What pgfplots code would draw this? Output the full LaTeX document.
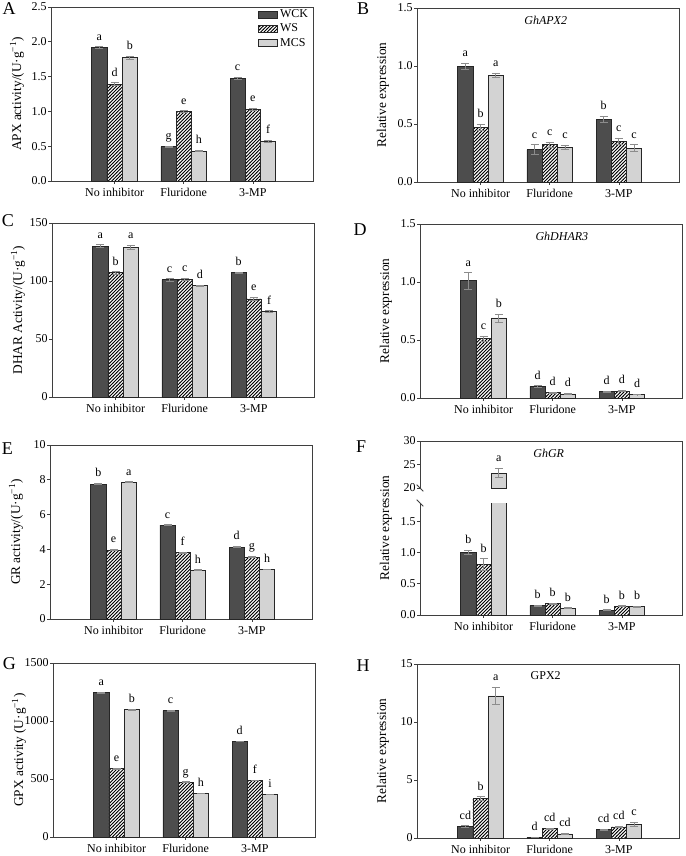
\documentclass[border=0pt]{standalone}
\usepackage{fontspec}
\setmainfont{Liberation Serif}
\usepackage{pgfplots}
\usepackage{pgfplotstable}
\pgfplotsset{compat=1.18}
\usetikzlibrary{patterns}
\newcommand\fs{\fontsize{9pt}{10pt}\selectfont}
\newcommand\pl{\fontsize{13.5pt}{14pt}\selectfont}
\definecolor{cdark}{HTML}{4D4D4D}
\definecolor{clight}{HTML}{D3D3D3}
\definecolor{cerr}{HTML}{8C8C8C}
\definecolor{caxis}{HTML}{3F3F3F}
\pgfdeclarepatternformonly{myne}{\pgfqpoint{-1pt}{-1pt}}{\pgfqpoint{3.5pt}{3.5pt}}{\pgfqpoint{2.5pt}{2.5pt}}{%
  \pgfsetlinewidth{0.65pt}\pgfpathmoveto{\pgfqpoint{-0.2pt}{-0.2pt}}\pgfpathlineto{\pgfqpoint{2.7pt}{2.7pt}}\pgfusepath{stroke}}

\pgfplotsset{
 panel/.style={scale only axis, width=197pt, height=130.5pt, anchor=south west,
   ybar, bar width=0.22, xmin=-0.92, xmax=2.88,
   xtick={0,1,2}, xticklabels={No inhibitor,Fluridone,3-MP},
   tick align=outside, tick pos=left, major tick length=2pt,
   tick style={caxis, line width=0.5pt}, axis line style={caxis, line width=0.6pt},
   ticklabel style={font=\fs}, yticklabel style={inner sep=1pt},
   label style={font=\fs},
   every axis y label/.style={at={(rel axis cs:0,0.5)}, xshift=-25.5pt, rotate=90, anchor=center}},
 errb/.style={/pgfplots/error bars/y dir=both, /pgfplots/error bars/y explicit,
   /pgfplots/error bars/error bar style={cerr, line width=0.6pt},
   /pgfplots/error bars/error mark options={cerr, rotate=90, mark size=3pt, line width=0.6pt}},
 lett/.style={nodes near coords, point meta=explicit symbolic,
   every node near coord/.append style={font=\fs, text=black, anchor=base, inner sep=0pt, yshift=\eshift}},
 legimg/.style={legend image code/.code={\draw[##1] (0pt,-2.6pt) rectangle (14pt,2.6pt);}},
 s1/.style={bar shift=-0.22, fill=cdark, draw=black!85, line width=0.6pt, errb, lett, legimg},
 s2/.style={bar shift=0, pattern=myne, pattern color=black, draw=black!85, line width=0.6pt, errb, lett, legimg},
 s3/.style={bar shift=0.22, fill=clight, draw=black!85, line width=0.6pt, errb, lett, legimg},
}

\newcommand\bars[2]{%
\addplot[s1, visualization depends on={5+\thisrow{wcke}*#2 \as \eshift}] table[x=x, y=wck, y error=wcke, meta=wckl] {#1};
\addplot[s2, visualization depends on={5+\thisrow{wse}*#2 \as \eshift}] table[x=x, y=ws, y error=wse, meta=wsl] {#1};
\addplot[s3, visualization depends on={5+\thisrow{mcse}*#2 \as \eshift}] table[x=x, y=mcs, y error=mcse, meta=mcsl] {#1};
}

\pgfplotstableread{
x wck wcke wckl ws wse wsl mcs mcse mcsl
0 1.92 0.01 a 1.39 0.02 d 1.77 0.025 b
1 0.49 0.01 g 1.00 0.01 e 0.43 0.01 h
2 1.47 0.015 c 1.03 0.01 e 0.57 0.015 f
}\tA
\pgfplotstableread{
x wck wcke wckl ws wse wsl mcs mcse mcsl
0 1.00 0.025 a 0.47 0.025 b 0.92 0.02 a
1 0.28 0.04 c 0.32 0.025 c 0.30 0.015 c
2 0.54 0.025 b 0.35 0.03 c 0.29 0.03 c
}\tB
\pgfplotstableread{
x wck wcke wckl ws wse wsl mcs mcse mcsl
0 130 1.2 a 107 1.0 b 129 1.5 a
1 101 1.0 c 101.5 1.0 c 96 0.3 d
2 107 0.5 b 84.5 1.2 e 73.8 0.6 f
}\tC
\pgfplotstableread{
x wck wcke wckl ws wse wsl mcs mcse mcsl
0 1.01 0.07 a 0.51 0.025 c 0.69 0.035 b
1 0.10 0.005 d 0.045 0.005 d 0.035 0.003 d
2 0.055 0.005 d 0.06 0.005 d 0.03 0.003 d
}\tD
\pgfplotstableread{
x wck wcke wckl ws wse wsl mcs mcse mcsl
0 7.75 0.03 b 3.96 0.03 e 7.86 0.03 a
1 5.39 0.03 c 3.82 0.03 f 2.81 0.02 h
2 4.13 0.03 d 3.56 0.03 g 2.85 0.02 h
}\tE
\pgfplotstableread{
x wck wcke wckl ws wse wsl mcs mcse mcsl
0 1.00 0.035 b 0.81 0.09 b 23.2 1.0 {}
1 0.15 0.005 b 0.18 0.01 b 0.11 0.005 b
2 0.08 0.005 b 0.14 0.008 b 0.13 0.006 b
}\tF
\pgfplotstableread{
x mcs mcse mcsl
0 23.2 1.0 a
}\tFup
\pgfplotstableread{
x wck wcke wckl ws wse wsl mcs mcse mcsl
0 1245 4 a 590 3 e 1098 3 b
1 1090 4 c 474 3 g 376 2 h
2 825 3 d 489 3 f 367 2 i
}\tG
\pgfplotstableread{
x wck wcke wckl ws wse wsl mcs mcse mcsl
0 1.0 0.05 cd 3.40 0.15 b 12.25 0.75 a
1 0.05 0.01 d 0.81 0.05 cd 0.35 0.03 cd
2 0.72 0.05 cd 0.95 0.05 cd 1.18 0.15 c
}\tH

\begin{document}
\begin{tikzpicture}
\path[use as bounding box] (0pt,0pt) rectangle (513.75pt,-642pt);

% A
\begin{axis}[panel, at={(38.25pt,-135.75pt)}, ymin=0, ymax=2.5,
  ytick={0,0.5,1,1.5,2,2.5}, yticklabels={0.0,0.5,1.0,1.5,2.0,2.5},
  ylabel={APX activity/(U·g\textsuperscript{−1})},
  legend style={draw=none, fill=none, at={(rel axis cs:0.995,1.01)}, anchor=north east, font=\fs, inner sep=1pt, row sep=-0.7pt},
  legend cell align=left]
\bars{\tA}{52.2}
\legend{WCK,WS,MCS}
\end{axis}

% B
\begin{axis}[panel, at={(312.75pt,-136.5pt)}, ymin=0, ymax=1.5,
  ytick={0,0.5,1,1.5}, yticklabels={0.0,0.5,1.0,1.5},
  ylabel={Relative expression}]
\bars{\tB}{87}
\node[font=\fs\itshape, anchor=center, yshift=-9pt] at (rel axis cs:0.49,1) {GhAPX2};
\end{axis}

% C
\begin{axis}[panel, at={(39pt,-297.75pt)}, ymin=0, ymax=150,
  ytick={0,50,100,150}, yticklabels={0,50,100,150},
  ylabel={DHAR Activity/(U·g\textsuperscript{−1})}]
\bars{\tC}{0.87}
\end{axis}

% D
\begin{axis}[panel, at={(315pt,-298.5pt)}, ymin=0, ymax=1.5,
  ytick={0,0.5,1,1.5}, yticklabels={0.0,0.5,1.0,1.5},
  ylabel={Relative expression}]
\bars{\tD}{87}
\node[font=\fs\itshape, anchor=center, yshift=-9pt] at (rel axis cs:0.54,1) {GhDHAR3};
\end{axis}

% E
\begin{axis}[panel, at={(37.5pt,-464.25pt)}, ymin=0, ymax=10,
  ytick={0,2,4,6,8,10}, yticklabels={0,2,4,6,8,10},
  ylabel={GR activity/(U·g\textsuperscript{−1})}]
\bars{\tE}{13.05}
\end{axis}

% F lower
\begin{axis}[panel, name=Flow, at={(315pt,-461.25pt)}, height=84pt, ymin=0, ymax=1.79,
  axis x line*=bottom, axis y line*=left,
  ytick={0,0.5,1,1.5}, yticklabels={0.0,0.5,1.0,1.5},
  ylabel={Relative expression}, ylabel style={at={(rel axis cs:0,0.777)}}]
\bars{\tF}{46.9}
\end{axis}
% F upper
\begin{axis}[panel, name=Fup, at={(315pt,-366pt)}, height=35.25pt, ymin=20, ymax=30,
  axis x line=none, axis y line*=left, xtick=\empty,
  ytick={20,25,30}, yticklabels={20,25,30}]
\addplot[s3, visualization depends on={5+\thisrow{mcse}*3.525 \as \eshift}] table[x=x, y=mcs, y error=mcse, meta=mcsl] {\tFup};
\node[font=\fs\itshape, anchor=center, yshift=-9pt] at (rel axis cs:0.49,1) {GhGR};
\end{axis}
\draw[caxis, line width=0.6pt] (Fup.north west) -- (Fup.north east) -- (Flow.south east);
\draw[caxis, line width=0.6pt] (Fup.south west) ++(-2.5pt,2.5pt) -- ++(5pt,-5pt);
\draw[caxis, line width=0.6pt] (Flow.north west) ++(-2.5pt,2.5pt) -- ++(5pt,-5pt);

% G
\begin{axis}[panel, at={(39.75pt,-627.75pt)}, ymin=0, ymax=1500,
  ytick={0,500,1000,1500}, yticklabels={0,500,1000,1500},
  ylabel={GPX activity (U·g\textsuperscript{−1})}]
\bars{\tG}{0.087}
\end{axis}

% H
\begin{axis}[panel, at={(312.75pt,-628.5pt)}, ymin=0, ymax=15,
  ytick={0,5,10,15}, yticklabels={0,5,10,15},
  ylabel={Relative expression}]
\bars{\tH}{8.7}
\node[font=\fs, anchor=center, yshift=-9pt] at (rel axis cs:0.49,1) {GPX2};
\end{axis}

% panel letters
\node[font=\pl] at (6.75pt,-6.75pt) {A};
\node[font=\pl] at (272.25pt,-6.75pt) {B};
\node[font=\pl] at (6pt,-165.75pt) {C};
\node[font=\pl] at (270pt,-172.5pt) {D};
\node[font=\pl] at (5.6pt,-336.75pt) {E};
\node[font=\pl] at (270.75pt,-335.25pt) {F};
\node[font=\pl] at (7.1pt,-498pt) {G};
\node[font=\pl] at (272.25pt,-499.5pt) {H};
\end{tikzpicture}
\end{document}
